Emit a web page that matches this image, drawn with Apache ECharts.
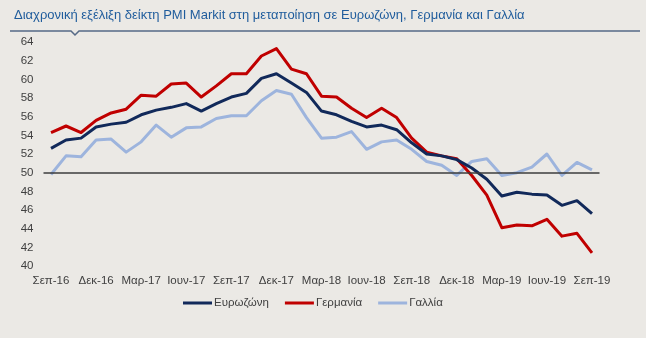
<!DOCTYPE html>
<html>
<head>
<meta charset="utf-8">
<script src="https://cdn.jsdelivr.net/npm/echarts@6/dist/echarts.min.js"></script>
<style>
html,body{margin:0;padding:0;background:#ebe9e5;}
#c{width:646px;height:338px;}
</style>
</head>
<body>
<div id="c"></div>
<script>
const titleText = 'Διαχρονική εξέλιξη δείκτη PMI Markit στη μεταποίηση σε Ευρωζώνη, Γερμανία και Γαλλία';
const categories = [
  'Σεπ-16','Οκτ-16','Νοε-16','Δεκ-16','Ιαν-17','Φεβ-17','Μαρ-17','Απρ-17','Μαϊ-17','Ιουν-17','Ιουλ-17','Αυγ-17',
  'Σεπ-17','Οκτ-17','Νοε-17','Δεκ-17','Ιαν-18','Φεβ-18','Μαρ-18','Απρ-18','Μαϊ-18','Ιουν-18','Ιουλ-18','Αυγ-18',
  'Σεπ-18','Οκτ-18','Νοε-18','Δεκ-18','Ιαν-19','Φεβ-19','Μαρ-19','Απρ-19','Μαϊ-19','Ιουν-19','Ιουλ-19','Αυγ-19','Σεπ-19'
];
const seriesNames = ['Ευρωζώνη','Γερμανία','Γαλλία'];
const eurozone = [52.6,53.5,53.7,54.9,55.2,55.4,56.2,56.7,57.0,57.4,56.6,57.4,58.1,58.5,60.1,60.6,59.6,58.6,56.6,56.2,55.5,54.9,55.1,54.6,53.2,52.0,51.8,51.4,50.5,49.3,47.5,47.9,47.7,47.6,46.5,47.0,45.6];
const germany = [54.3,55.0,54.3,55.6,56.4,56.8,58.3,58.2,59.5,59.6,58.1,59.3,60.6,60.6,62.5,63.3,61.1,60.6,58.2,58.1,56.9,55.9,56.9,55.9,53.7,52.2,51.8,51.5,49.7,47.6,44.1,44.4,44.3,45.0,43.2,43.5,41.4];
const france = [49.8,51.8,51.7,53.5,53.6,52.2,53.3,55.1,53.8,54.8,54.9,55.8,56.1,56.1,57.7,58.8,58.4,55.9,53.7,53.8,54.4,52.5,53.3,53.5,52.5,51.2,50.8,49.7,51.2,51.5,49.7,50.0,50.6,52.0,49.7,51.1,50.3];
const yTicks = {min:40, max:64, interval:2};
const refLevel = 50;

const colors = ['#11295a','#c00000','#9db4dd'];
const chart = echarts.init(document.getElementById('c'), null, {renderer:'canvas'});
const dataSets = [eurozone, germany, france];
chart.setOption({
  backgroundColor:'#ebe9e5',
  animation:false,
  title:{
    text:titleText, left:9, top:4,
    textStyle:{fontFamily:'Liberation Sans, Arial, sans-serif', fontSize:13, fontWeight:'normal', color:'#1f5c9c'}
  },
  graphic:[
    {type:'polyline', silent:true, shape:{points:[[10,31],[71,31],[75,35],[79,31],[640,31]]},
     style:{stroke:'#566a86', lineWidth:1.5, fill:null}}
  ],
  grid:{left:43.5, right:46.5, top:42, bottom:72},
  legend:{
    left:178, top:292,
    itemWidth:29, itemHeight:3, itemGap:16, icon:'rect',
    textStyle:{fontFamily:'Liberation Sans, Arial, sans-serif', fontSize:11.5, color:'#404040', padding:[0,0,0,-3]},
    data:seriesNames
  },
  xAxis:{
    type:'category', data:categories, boundaryGap:true,
    axisLine:{show:false}, axisTick:{show:false}, splitLine:{show:false},
    axisLabel:{interval:2, margin:9, color:'#404040', fontSize:11.5, fontFamily:'Liberation Sans, Arial, sans-serif'}
  },
  yAxis:{
    type:'value', min:yTicks.min, max:yTicks.max, interval:yTicks.interval,
    axisLine:{show:false}, axisTick:{show:false}, splitLine:{show:false},
    axisLabel:{margin:10, color:'#404040', fontSize:11.5, fontFamily:'Liberation Sans, Arial, sans-serif'}
  },
  series: seriesNames.map((n,i)=>({
    name:n, type:'line', data:dataSets[i], showSymbol:false, symbol:'none',
    lineStyle:{width:3, color:colors[i], join:'round'}, itemStyle:{color:colors[i]},
    z: 3 - i,
    markLine: i===0 ? {silent:true, symbol:'none', label:{show:false},
      lineStyle:{color:'#3c3c3c', width:1.5, type:'solid'}, data:[{yAxis:refLevel}]} : undefined
  }))
});
</script>
</body>
</html>
